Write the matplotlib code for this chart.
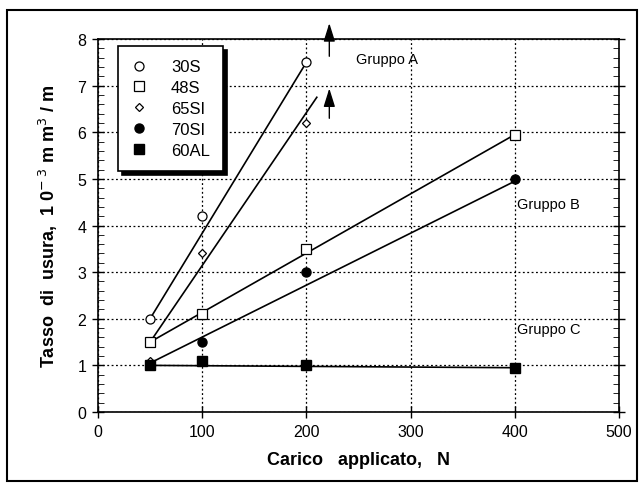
import numpy as np
import matplotlib.pyplot as plt
from matplotlib.patches import Rectangle

plt.rcParams['font.family'] = ['Liberation Sans', 'DejaVu Sans']

# carico applicato (N) e tasso di usura (10^-3 mm^3/m)
carico = [50, 100, 200, 400]
s30 = [2.0, 4.2, 7.5]
s48 = [1.5, 2.1, 3.5, 5.95]
si65 = [1.1, 3.4, 6.2]
si70 = [1.0, 1.5, 3.0, 5.0]
al60 = [1.0, 1.1, 1.0, 0.95]

# rette tracciate a mano sul grafico originale
retta_30s = ([50, 200], [2.0, 7.5])
retta_65si = ([50, 210], [1.5, 6.75])
retta_48s = ([50, 400], [1.5, 5.95])
retta_70si = ([50, 400], [1.05, 4.95])
retta_60al = ([50, 400], [1.0, 0.95])

fig = plt.figure(figsize=(6.42, 4.89), dpi=100)
ax = fig.add_axes([0.1526, 0.1554, 0.8116, 0.7628])

for xs, ys in [retta_30s, retta_65si, retta_48s, retta_70si, retta_60al]:
    ax.plot(xs, ys, color='black', lw=1.2, zorder=2)

mk = dict(color='black', linestyle='none', zorder=3)
ax.plot(carico[:3], s30, marker='o', ms=6.5, mfc='white', mew=0.9, label='30S', **mk)
ax.plot(carico, s48, marker='s', ms=6.5, mfc='white', mew=0.9, label='48S', **mk)
ax.plot(carico[:3], si65, marker='D', ms=4.5, mfc='white', mew=0.9, label='65SI', **mk)
ax.plot(carico, si70, marker='o', ms=6.5, mfc='black', label='70SI', **mk)
ax.plot(carico, al60, marker='s', ms=6.5, mfc='black', label='60AL', **mk)

ax.set_xlim(0, 500)
ax.set_ylim(0, 8)
ax.set_xticks(range(0, 501, 100))
ax.set_yticks(range(0, 9))
ax.set_yticks(np.arange(0, 8.01, 0.2), minor=True)
ax.grid(True, which='major', linestyle=(0, (1.5, 2)), color='black', lw=0.9)
ax.tick_params(axis='both', which='major', direction='inout', length=9, width=1,
               labelsize=11.5, pad=4)
ax.tick_params(axis='y', which='major', right=True, labelright=False)
ax.tick_params(axis='y', which='minor', direction='in', length=4, right=True, left=True)
for s in ax.spines.values():
    s.set_linewidth(1.2)

ax.set_xlabel('Carico   applicato,   N', fontsize=13, fontweight='bold', labelpad=9)
ax.set_ylabel('Tasso  di  usura,  1 0$^{-\\ 3}$ m m$^{3}$ / m', fontsize=13,
              fontweight='bold', labelpad=12)

# frecce e nomi dei gruppi
ax.annotate('', xy=(222, 8.4), xytext=(222, 7.57), annotation_clip=False,
            arrowprops=dict(arrowstyle='-|>,head_width=0.25,head_length=0.8',
                            color='black', lw=1, mutation_scale=14))
ax.annotate('', xy=(222, 7.0), xytext=(222, 6.24),
            arrowprops=dict(arrowstyle='-|>,head_width=0.25,head_length=0.8',
                            color='black', lw=1, mutation_scale=14))
ax.text(248, 7.57, 'Gruppo A', fontsize=10.5, va='center')
ax.text(402, 4.46, 'Gruppo B', fontsize=10.5, va='center')
ax.text(402, 1.78, 'Gruppo C', fontsize=10.5, va='center')

leg = ax.legend(loc='upper left', bbox_to_anchor=(0.038, 0.981), fontsize=12,
                handlelength=1.0, handletextpad=1.4, labelspacing=0.35,
                borderpad=0.8, borderaxespad=0, fancybox=False, framealpha=1,
                edgecolor='black', shadow={'color': 'black', 'alpha': 1, 'ox': 3, 'oy': -3})
leg.get_frame().set_linewidth(1.2)
leg.set_zorder(5)

fig.patches.append(Rectangle((7 / 642, 7 / 489), 630 / 642, 471 / 489,
                             transform=fig.transFigure, fill=False,
                             edgecolor='black', lw=1.5))

fig.savefig('out.png', dpi=100)
